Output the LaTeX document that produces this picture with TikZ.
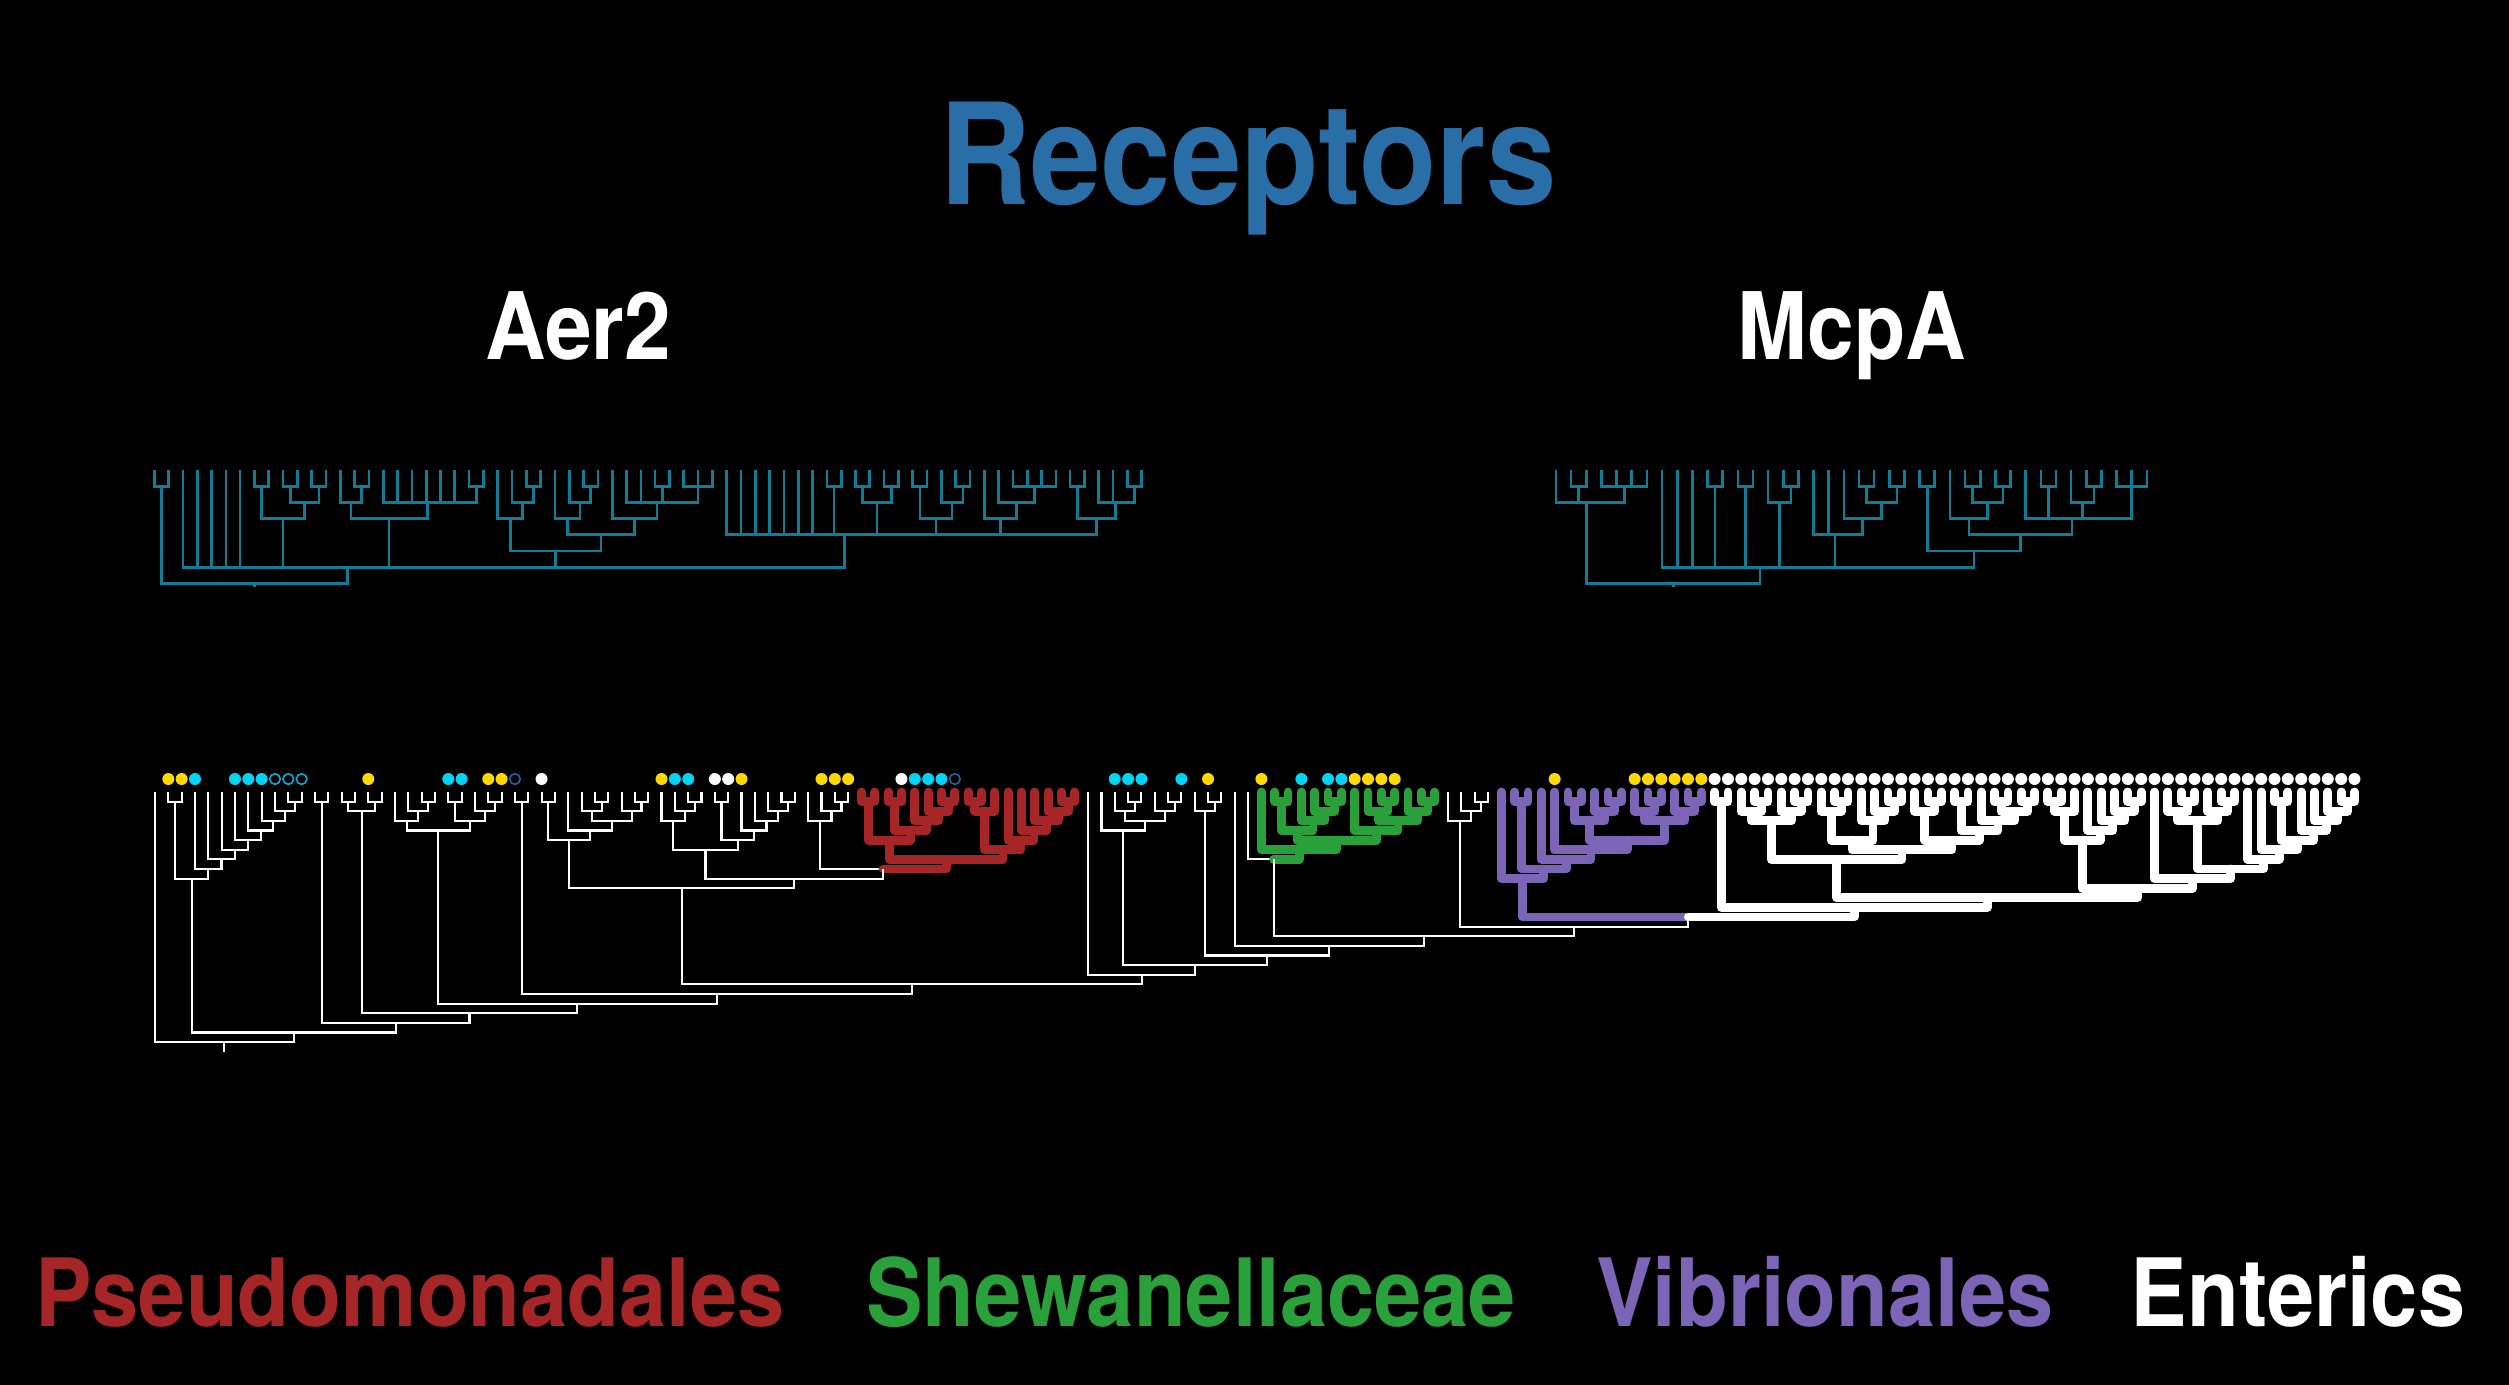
\documentclass[tikz,border=0pt]{standalone}
\usepackage{fontspec}
\usepackage{tikz}
\usetikzlibrary{calc}
\newfontfamily\hvb{TeX Gyre Heros}[FakeStretch=0.9]
\definecolor{mpteal}{RGB}{16,124,150}
\definecolor{titleblue}{RGB}{42,110,168}
\definecolor{pseudored}{RGB}{166,38,40}
\definecolor{shewagreen}{RGB}{42,160,58}
\definecolor{vibriopurple}{RGB}{124,100,182}
\definecolor{dotyellow}{RGB}{255,216,0}
\definecolor{dotcyan}{RGB}{0,212,245}
\definecolor{ringblue}{RGB}{30,100,160}
\definecolor{ringcyan}{RGB}{0,175,215}
\tikzset{
  tealline/.style={draw=mpteal, line width=0.75pt},
  thinline/.style={draw=white, line width=0.6pt},
  thickline/.style={line width=2.5pt, line cap=round, line join=round},
  pseudo/.style={thickline, draw=pseudored},
  shewa/.style={thickline, draw=shewagreen},
  vibrio/.style={thickline, draw=vibriopurple},
  enteric/.style={thickline, draw=white},
  title/.style={font=\hvb\bfseries\fontsize{40}{40}\selectfont, text=titleblue, anchor=base},
  header/.style={font=\hvb\bfseries\fontsize{26.5}{26.5}\selectfont, text=white, anchor=base},
  legend/.style={font=\hvb\bfseries\fontsize{26.8}{26.8}\selectfont, anchor=base}
}
% clade: parent sits at the mean x of its children, at level #3
\newcommand\clade[4][thinline]{%
  \gdef\csum{0}\gdef\cnum{0}%
  \foreach \kid in {#4}{%
    \path (\kid); \pgfgetlastxy{\kx}{\ky}%
    \pgfmathparse{\csum+\kx}\xdef\csum{\pgfmathresult}%
    \pgfmathparse{int(\cnum+1)}\xdef\cnum{\pgfmathresult}}%
  \pgfmathsetmacro\cxpos{\csum/\cnum}%
  \path (0,{\ybase+\ystep*#3}); \pgfgetlastxy{\kx}{\cypos}%
  \coordinate (#2) at (\cxpos pt,\cypos);%
  \foreach \kid in {#4}{\draw[#1] (#2) -| (\kid);}}

\begin{document}
\begin{tikzpicture}[x=0.01cm, y=-0.01cm]
  \fill[black] (0,0) rectangle (2509,1385);
  \useasboundingbox (0,0) rectangle (2509,1385);

  % Titles
  \node[title] (rec) at (1248,205) {Receptors};
  \node[header] (aer) at (578,360) {Aer2};
  \node[header] (mcp) at (1852,360) {McpA};

  % Aer2 tree
  \def\ybase{470}\def\ystep{16.2}
  \foreach \i in {0,...,69} \coordinate (a\i) at ({154.3+14.31*\i},470);
  \clade[tealline]{x1}{1}{a0,a1}
  \clade[tealline]{x2}{1}{a7,a8}
  \clade[tealline]{x3}{1}{a9,a10}
  \clade[tealline]{x4}{1}{a11,a12}
  \clade[tealline]{x5}{2}{x3,x4}
  \clade[tealline]{x6}{3}{x2,x5}
  \clade[tealline]{x7}{1}{a14,a15}
  \clade[tealline]{x8}{2}{a13,x7}
  \clade[tealline]{x9}{1}{a22,a23}
  \clade[tealline]{x10}{2}{a16,a17,a18,a19,a20,a21,x9}
  \clade[tealline]{x11}{3}{x8,x10}
  \clade[tealline]{x12}{1}{a26,a27}
  \clade[tealline]{x13}{2}{a25,x12}
  \clade[tealline]{x14}{3}{a24,x13}
  \clade[tealline]{x15}{1}{a30,a31}
  \clade[tealline]{x16}{2}{a29,x15}
  \clade[tealline]{x17}{3}{a28,x16}
  \clade[tealline]{x18}{1}{a35,a36}
  \clade[tealline]{x19}{1}{a37,a38,a39}
  \clade[tealline]{x20}{2}{a33,a34,x18,x19}
  \clade[tealline]{x21}{3}{a32,x20}
  \clade[tealline]{x22}{4}{x17,x21}
  \clade[tealline]{x23}{5}{x14,x22}
  \clade[tealline]{x24}{1}{a47,a48}
  \clade[tealline]{x25}{1}{a49,a50}
  \clade[tealline]{x26}{1}{a51,a52}
  \clade[tealline]{x27}{2}{x25,x26}
  \clade[tealline]{x28}{1}{a53,a54}
  \clade[tealline]{x29}{1}{a56,a57}
  \clade[tealline]{x30}{2}{a55,x29}
  \clade[tealline]{x31}{3}{x28,x30}
  \clade[tealline]{x32}{1}{a60,a61,a62,a63}
  \clade[tealline]{x33}{2}{a59,x32}
  \clade[tealline]{x34}{3}{a58,x33}
  \clade[tealline]{x35}{1}{a64,a65}
  \clade[tealline]{x36}{1}{a68,a69}
  \clade[tealline]{x37}{2}{a66,a67,x36}
  \clade[tealline]{x38}{3}{x35,x37}
  \clade[tealline]{x39}{4}{a40,a41,a42,a43,a44,a45,a46,x24,x27,x31,x34,x38}
  \clade[tealline]{x40}{6}{a2,a3,a4,a5,a6,x6,x11,x23,x39}
  \clade[tealline]{x41}{7}{x1,x40}
  \draw[tealline] (x41) -- ++(0,4);

  % McpA tree
  \foreach \i in {0,...,39} \coordinate (m\i) at ({1556+15.15*\i},470);
  \clade[tealline]{y1}{1}{m1,m2}
  \clade[tealline]{y2}{1}{m3,m4,m5,m6}
  \clade[tealline]{y3}{2}{m0,y1,y2}
  \clade[tealline]{y4}{1}{m10,m11}
  \clade[tealline]{y5}{1}{m12,m13}
  \clade[tealline]{y6}{1}{m15,m16}
  \clade[tealline]{y7}{2}{m14,y6}
  \clade[tealline]{y8}{1}{m20,m21}
  \clade[tealline]{y9}{1}{m22,m23}
  \clade[tealline]{y10}{2}{y8,y9}
  \clade[tealline]{y11}{3}{m19,y10}
  \clade[tealline]{y12}{4}{m17,m18,y11}
  \clade[tealline]{y13}{1}{m24,m25}
  \clade[tealline]{y14}{1}{m27,m28}
  \clade[tealline]{y15}{1}{m29,m30}
  \clade[tealline]{y16}{2}{y14,y15}
  \clade[tealline]{y17}{3}{m26,y16}
  \clade[tealline]{y18}{1}{m32,m33}
  \clade[tealline]{y19}{1}{m35,m36}
  \clade[tealline]{y20}{2}{m34,y19}
  \clade[tealline]{y21}{1}{m37,m38,m39}
  \clade[tealline]{y22}{3}{m31,y18,y20,y21}
  \clade[tealline]{y23}{4}{y17,y22}
  \clade[tealline]{y24}{5}{y13,y23}
  \clade[tealline]{y25}{6}{m7,m8,m9,y4,y5,y7,y12,y24}
  \clade[tealline]{y26}{7}{y3,y25}
  \draw[tealline] (y26) -- ++(0,4);

  % Big tree
  \def\ybase{792}\def\ystep{9.62}
  \foreach \i in {0,...,165} \coordinate (b\i) at ({155+13.33*\i},792);
  % caterpillar on the left
  \clade{A0}{1}{b1,b2}
  \clade{A1}{1}{b10,b11}
  \clade{A2}{2}{b9,A1}
  \clade{A3}{3}{b8,A2}
  \clade{A4}{4}{b7,A3}
  \clade{A5}{5}{b6,A4}
  \clade{A6}{6}{b5,A5}
  \clade{A7}{7}{b4,A6}
  \clade{A8}{8}{b3,A7}
  \clade{A9}{9}{A0,A8}
  \clade{B1}{1}{b12,b13}
  \clade{C1}{1}{b14,b15}
  \clade{C2}{1}{b16,b17}
  \clade{C3}{2}{C1,C2}
  \clade{D1}{1}{b20,b21}
  \clade{D2}{2}{b19,D1}
  \clade{D3}{3}{b18,D2}
  \clade{D4}{1}{b22,b23}
  \clade{D5}{1}{b25,b26}
  \clade{D6}{2}{b24,D5}
  \clade{D7}{3}{D4,D6}
  \clade{D8}{4}{D3,D7}
  \clade{E1}{1}{b27,b28}
  \clade{F1}{1}{b29,b30}
  \clade{F2}{1}{b33,b34}
  \clade{F3}{2}{b32,F2}
  \clade{F4}{1}{b36,b37}
  \clade{F5}{2}{b35,F4}
  \clade{F6}{3}{F3,F5}
  \clade{F7}{4}{b31,F6}
  \clade{F8}{5}{F1,F7}
  \clade{G1}{1}{b40,b41}
  \clade{G2}{2}{b39,G1}
  \clade{G3}{3}{b38,G2}
  \clade{G4}{1}{b42,b43}
  \clade{G5}{1}{b47,b48}
  \clade{G6}{2}{b46,G5}
  \clade{G7}{3}{b45,G6}
  \clade{G8}{4}{b44,G7}
  \clade{G9}{5}{G4,G8}
  \clade{G10}{6}{G3,G9}
  \clade{H1}{1}{b51,b52}
  \clade{H2}{2}{b50,H1}
  \clade{H3}{3}{b49,H2}
  % Pseudomonadales
  \clade[pseudo]{R1}{1}{b53,b54}
  \clade[pseudo]{R2}{1}{b55,b56}
  \clade[pseudo]{R3}{1}{b59,b60}
  \clade[pseudo]{R4}{2}{b58,R3}
  \clade[pseudo]{R5}{3}{b57,R4}
  \clade[pseudo]{R6}{4}{R2,R5}
  \clade[pseudo]{R7}{5}{R1,R6}
  \clade[pseudo]{R8}{1}{b61,b62}
  \clade[pseudo]{R9}{2}{R8,b63}
  \clade[pseudo]{R10}{1}{b68,b69}
  \clade[pseudo]{R11}{2}{b67,R10}
  \clade[pseudo]{R12}{3}{b66,R11}
  \clade[pseudo]{R13}{4}{b65,R12}
  \clade[pseudo]{R14}{5}{b64,R13}
  \clade[pseudo]{R15}{6}{R9,R14}
  \clade[pseudo]{R16}{7}{R7,R15}
  \clade{K8}{8}{H3,R16}
  \draw[pseudo] (K8) -| (R16);
  \clade{K9}{9}{G10,K8}
  \clade{K10}{10}{F8,K9}
  % middle white part
  \clade{W1}{1}{b73,b74}
  \clade{W2}{2}{b72,W1}
  \clade{W3}{1}{b76,b77}
  \clade{W4}{2}{b75,W3}
  \clade{W5}{3}{W2,W4}
  \clade{W6}{4}{b71,W5}
  \clade{W7}{1}{b79,b80}
  \clade{W8}{2}{b78,W7}
  % Shewanellaceae
  \clade[shewa]{S1}{1}{b84,b85}
  \clade[shewa]{S2}{1}{b88,b89}
  \clade[shewa]{S3}{2}{b87,S2}
  \clade[shewa]{S4}{3}{b86,S3}
  \clade[shewa]{S5}{4}{S1,S4}
  \clade[shewa]{S6}{1}{b92,b93}
  \clade[shewa]{S7}{2}{b91,S6}
  \clade[shewa]{S8}{1}{b95,b96}
  \clade[shewa]{S9}{2}{b94,S8}
  \clade[shewa]{S10}{3}{S7,S9}
  \clade[shewa]{S11}{4}{b90,S10}
  \clade[shewa]{S12}{5}{S5,S11}
  \clade[shewa]{S13}{6}{b83,S12}
  \clade{K7}{7}{b82,S13}
  \draw[shewa] (K7) -| (S13);
  \clade{W9}{1}{b99,b100}
  \clade{W10}{2}{b98,W9}
  \clade{W11}{3}{b97,W10}
  % Vibrionales
  \clade[vibrio]{V1}{1}{b102,b103}
  \clade[vibrio]{V2}{1}{b106,b107}
  \clade[vibrio]{V3}{1}{b109,b110}
  \clade[vibrio]{V4}{2}{b108,V3}
  \clade[vibrio]{V5}{3}{V2,V4}
  \clade[vibrio]{V6}{1}{b112,b113}
  \clade[vibrio]{V7}{2}{b111,V6}
  \clade[vibrio]{V8}{1}{b115,b116}
  \clade[vibrio]{V9}{2}{b114,V8}
  \clade[vibrio]{V10}{3}{V7,V9}
  \clade[vibrio]{V11}{5}{V5,V10}
  \clade[vibrio]{V12}{6}{b105,V11}
  \clade[vibrio]{V13}{7}{b104,V12}
  \clade[vibrio]{V14}{8}{V1,V13}
  \clade[vibrio]{V15}{9}{b101,V14}
  % Enterics
  \clade[enteric]{N1}{1}{b117,b118}
  \clade[enteric]{N2}{1}{b120,b121}
  \clade[enteric]{N3}{2}{b119,N2}
  \clade[enteric]{N4}{1}{b123,b124}
  \clade[enteric]{N5}{2}{b122,N4}
  \clade[enteric]{N6}{3}{N3,N5}
  \clade[enteric]{N7}{1}{b126,b127}
  \clade[enteric]{N8}{2}{b125,N7}
  \clade[enteric]{N9}{1}{b130,b131}
  \clade[enteric]{N10}{2}{b129,N9}
  \clade[enteric]{N11}{3}{b128,N10}
  \clade[enteric]{N12}{5}{N8,N11}
  \clade[enteric]{N13}{1}{b133,b134}
  \clade[enteric]{N14}{2}{b132,N13}
  \clade[enteric]{N15}{1}{b135,b136}
  \clade[enteric]{N16}{1}{b138,b139}
  \clade[enteric]{N17}{1}{b140,b141}
  \clade[enteric]{N18}{2}{N16,N17}
  \clade[enteric]{N19}{3}{b137,N18}
  \clade[enteric]{N20}{4}{N15,N19}
  \clade[enteric]{N21}{5}{N14,N20}
  \clade[enteric]{N22}{6}{N12,N21}
  \clade[enteric]{N23}{7}{N6,N22}
  \clade[enteric]{N24}{1}{b142,b143}
  \clade[enteric]{N25}{2}{N24,b144}
  \clade[enteric]{N26}{1}{b148,b149}
  \clade[enteric]{N27}{2}{b147,N26}
  \clade[enteric]{N28}{3}{b146,N27}
  \clade[enteric]{N29}{4}{b145,N28}
  \clade[enteric]{N30}{5}{N25,N29}
  \clade[enteric]{N31}{1}{b152,b153}
  \clade[enteric]{N32}{2}{b151,N31}
  \clade[enteric]{N33}{1}{b155,b156}
  \clade[enteric]{N34}{2}{b154,N33}
  \clade[enteric]{N35}{3}{N32,N34}
  \clade[enteric]{N36}{1}{b164,b165}
  \clade[enteric]{N37}{2}{b163,N36}
  \clade[enteric]{N38}{3}{b162,N37}
  \clade[enteric]{N39}{4}{b161,N38}
  \clade[enteric]{N40}{1}{b159,b160}
  \clade[enteric]{N41}{5}{N40,N39}
  \clade[enteric]{N42}{6}{b158,N41}
  \clade[enteric]{N43}{7}{b157,N42}
  \clade[enteric]{N44}{8}{N35,N43}
  \clade[enteric]{N45}{9}{b150,N44}
  \clade[enteric]{N46}{10}{N30,N45}
  \clade[enteric]{N47}{11}{N23,N46}
  \clade[enteric]{N48}{12}{N1,N47}
  % backbone
  \clade{K13}{13}{V15,N48}
  \draw[vibrio] (K13) -| (V15);
  \draw[enteric] (K13) -| (N48);
  \clade{K14}{14}{W11,K13}
  \clade{K15}{15}{K7,K14}
  \clade{K16}{16}{b81,K15}
  \clade{K17}{17}{W8,K16}
  \clade{K18}{18}{W6,K17}
  \clade{K19}{19}{b70,K18}
  \clade{K20}{20}{K10,K19}
  \clade{K21}{21}{E1,K20}
  \clade{K22}{22}{D8,K21}
  \clade{K23}{23}{C3,K22}
  \clade{K24}{24}{B1,K23}
  \clade{K25}{25}{A9,K24}
  \clade{K26}{26}{b0,K25}
  \draw[thinline] (K26) -- ++(0,10);

  % Dots above the leaves
  \foreach \i in {1,2,16,25,26,38,44,50,51,52,79,83,90,91,92,93,105,111,112,113,114,115,116}
    \fill[dotyellow] (b\i) ++(0,-13) circle[radius=0.06cm];
  \foreach \i in {3,6,7,8,22,23,39,40,57,58,59,72,73,74,77,86,88,89}
    \fill[dotcyan] (b\i) ++(0,-13) circle[radius=0.06cm];
  \foreach \i in {29,42,43,56}
    \fill[white] (b\i) ++(0,-13) circle[radius=0.06cm];
  \foreach \i in {117,...,165}
    \fill[white] (b\i) ++(0,-13) circle[radius=0.06cm];
  \foreach \i in {9,10,11}
    \draw[ringcyan, line width=0.45pt] (b\i) ++(0,-13) circle[radius=0.053cm];
  \foreach \i in {27,60}
    \draw[ringblue, line width=0.45pt] (b\i) ++(0,-13) circle[radius=0.053cm];

  % Legend
  \node[legend, text=pseudored] (lpse) at (410,1326) {Pseudomonadales};
  \node[legend, text=shewagreen] (lshe) at (1191,1326) {Shewanellaceae};
  \node[legend, text=vibriopurple] (lvib) at (1825,1326) {Vibrionales};
  \node[legend, text=white] (lent) at (2298,1326) {Enterics};
\end{tikzpicture}
\end{document}
